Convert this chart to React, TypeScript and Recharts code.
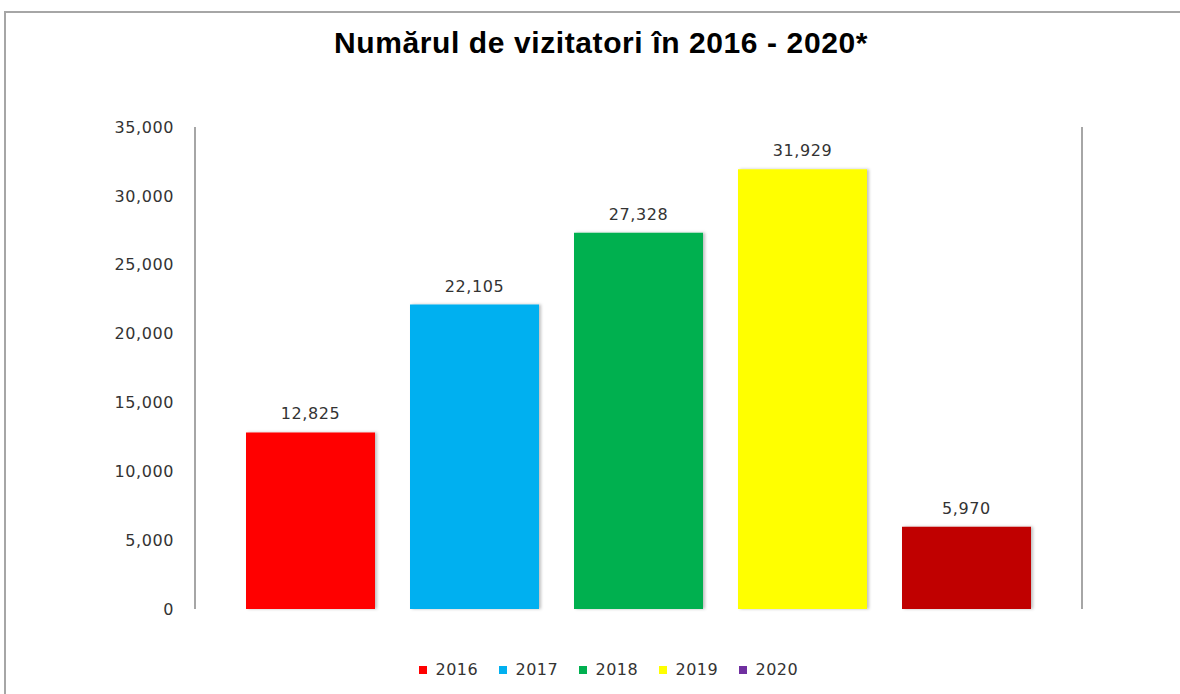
import { BarChart, Bar, XAxis, YAxis, LabelList, Legend } from "recharts";

const years = ["2016", "2017", "2018", "2019", "2020"];
const visitors = [12825, 22105, 27328, 31929, 5970];
const barColors = ["#FF0000", "#00B0F0", "#00B050", "#FFFF00", "#C00000"];
const legendColors = ["#FF0000", "#00B0F0", "#00B050", "#FFFF00", "#7030A0"];
const yTicks = [0, 5000, 10000, 15000, 20000, 25000, 30000, 35000];

const row: Record<string, number | string> = { name: "" };
years.forEach((y, i) => {
  row["y" + y] = visitors[i];
});
const data = [row];

const fmt = (v: number) => v.toLocaleString("en-US");
const FONT = "'DejaVu Sans', Verdana, sans-serif";

function YearLegend() {
  return (
    <div style={{ display: "flex", justifyContent: "center", fontFamily: FONT, fontSize: 16, letterSpacing: 0.5, color: "#333" }}>
      {years.map((y, i) => (
        <div key={y} style={{ display: "flex", alignItems: "center", width: 80 }}>
          <span style={{ width: 8, height: 8, background: legendColors[i], display: "inline-block", marginRight: 9 }} />
          <span>{y}</span>
        </div>
      ))}
    </div>
  );
}

export default function App() {
  return (
    <div style={{ position: "absolute", left: 0, top: 0, width: 1180, height: 694, overflow: "hidden", background: "#fff" }}>
      <div
        style={{
          position: "absolute",
          left: 4,
          top: 11,
          width: 1200,
          height: 700,
          borderTop: "2px solid #a6a6a6",
          borderLeft: "2px solid #a6a6a6",
        }}
      />
      <div
        style={{
          position: "absolute",
          left: 0,
          top: 26,
          width: 1202,
          textAlign: "center",
          fontFamily: "'Liberation Sans', Arial, sans-serif",
          fontWeight: 700,
          fontSize: 30,
          letterSpacing: 0.6,
          color: "#000",
        }}
      >
        Numărul de vizitatori în 2016 - 2020*
      </div>
      <div style={{ position: "absolute", left: 0, top: 0 }}>
        <BarChart
          width={1180}
          height={694}
          data={data}
          margin={{ top: 127, right: 97, left: 100, bottom: 85 }}
          barGap={35}
        >
          <defs>
            <filter id="shadow" x="-10%" y="-10%" width="130%" height="120%">
              <feDropShadow dx={2} dy={0} stdDeviation={1.5} floodColor="#000" floodOpacity={0.25} />
            </filter>
          </defs>
          <XAxis dataKey="name" hide />
          <YAxis
            yAxisId="left"
            width={95}
            domain={[0, 35000]}
            ticks={yTicks}
            tickFormatter={fmt}
            tickLine={false}
            tickMargin={15}
            axisLine={{ stroke: "#a6a6a6", strokeWidth: 2 }}
            tick={{ fill: "#333", fontSize: 16, fontFamily: FONT, letterSpacing: 0.6 }}
            interval={0}
          />
          <YAxis
            yAxisId="right"
            orientation="right"
            width={1}
            domain={[0, 35000]}
            tick={false}
            tickLine={false}
            axisLine={{ stroke: "#a6a6a6", strokeWidth: 2 }}
          />
          <Legend
            verticalAlign="middle"
            align="center"
            content={() => <YearLegend />}
            wrapperStyle={{ top: 660, left: 16, width: 1205 }}
          />
          {years.map((y, i) => (
            <Bar
              key={y}
              yAxisId="left"
              dataKey={"y" + y}
              name={y}
              fill={barColors[i]}
              barSize={129}
              isAnimationActive={false}
              style={{ filter: "url(#shadow)" }}
            >
              <LabelList
                dataKey={"y" + y}
                position="top"
                offset={13}
                formatter={(v: any) => fmt(Number(v))}
                style={{ fill: "#333", fontSize: 16, fontFamily: FONT, letterSpacing: 0.6 }}
              />
            </Bar>
          ))}
        </BarChart>
      </div>
    </div>
  );
}
